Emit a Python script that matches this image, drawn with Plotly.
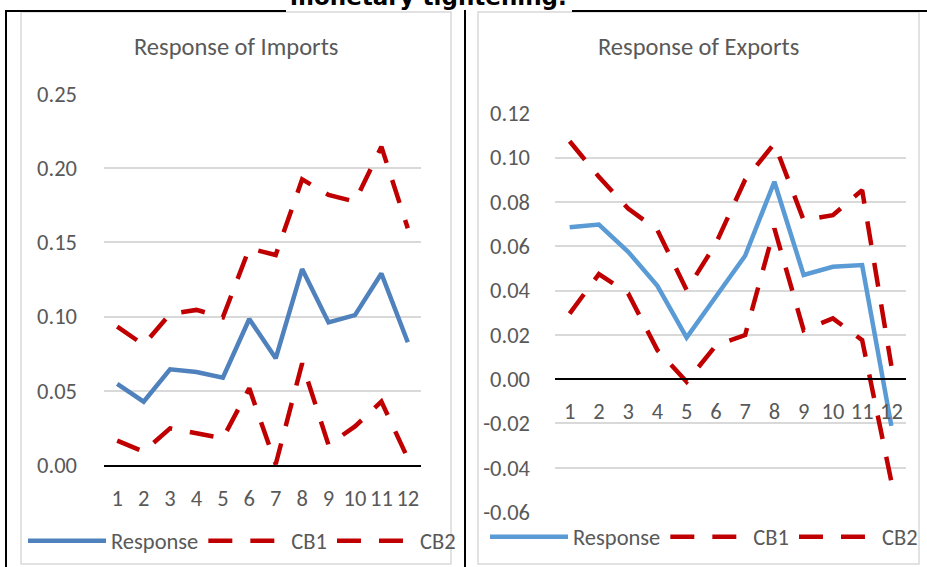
import plotly.graph_objects as go

W, H = 927, 567

periods = list(range(1, 13))

# Response of Imports
imp_response = [0.0546, 0.0427, 0.0645, 0.0627, 0.0589, 0.0984, 0.0719, 0.132, 0.0961, 0.101, 0.129, 0.0827]
imp_cb1 = [0.0164, 0.009, 0.0247, 0.0213, 0.018, 0.0517, 0.0005, 0.0685, 0.0135, 0.026, 0.0427, 0.0045]
imp_cb2 = [0.0932, 0.081, 0.1018, 0.1045, 0.0995, 0.146, 0.1415, 0.1925, 0.182, 0.1775, 0.2145, 0.1595]

# Response of Exports
exp_response = [0.0686, 0.0698, 0.0575, 0.0421, 0.0187, 0.0372, 0.0557, 0.0891, 0.047, 0.0507, 0.0515, -0.0211]
exp_cb1 = [0.0296, 0.0474, 0.0387, 0.0131, -0.0012, 0.0152, 0.0199, 0.068, 0.0221, 0.0274, 0.0176, -0.0463]
exp_cb2 = [0.1074, 0.0913, 0.077, 0.0673, 0.0402, 0.0612, 0.090, 0.1064, 0.0718, 0.074, 0.0853, 0.006]

imp_ytick_vals = [0.0, 0.05, 0.10, 0.15, 0.20, 0.25]
imp_ytick_text = ["0.00", "0.05", "0.10", "0.15", "0.20", "0.25"]
exp_ytick_vals = [-0.06, -0.04, -0.02, 0.0, 0.02, 0.04, 0.06, 0.08, 0.10, 0.12]
exp_ytick_text = ["-0.06", "-0.04", "-0.02", "0.00", "0.02", "0.04", "0.06", "0.08", "0.10", "0.12"]

FONT = "Carlito, Calibri, Lato, sans-serif"
GRAY_TXT = "#595959"
GRID = "#D9D9D9"
RED = "#C00000"
BLUE_L = "#4F81BD"
BLUE_R = "#5B9BD5"
DASH = "24px,18px"


def px(x):
    return x / W


def py(y):
    return 1 - y / H


fig = go.Figure()

# left chart traces
fig.add_trace(go.Scatter(x=periods, y=imp_response, name="Response", mode="lines",
                         line=dict(color=BLUE_L, width=4.5), xaxis="x", yaxis="y", legend="legend"))
fig.add_trace(go.Scatter(x=periods, y=imp_cb1, name="CB1", mode="lines",
                         line=dict(color=RED, width=4.5, dash=DASH), xaxis="x", yaxis="y", legend="legend"))
fig.add_trace(go.Scatter(x=periods, y=imp_cb2, name="CB2", mode="lines",
                         line=dict(color=RED, width=4.5, dash=DASH), xaxis="x", yaxis="y", legend="legend"))

# right chart traces
fig.add_trace(go.Scatter(x=periods, y=exp_response, name="Response", mode="lines",
                         line=dict(color=BLUE_R, width=4.5), xaxis="x2", yaxis="y2", legend="legend2"))
fig.add_trace(go.Scatter(x=periods, y=exp_cb1, name="CB1", mode="lines",
                         line=dict(color=RED, width=4.5, dash=DASH), xaxis="x2", yaxis="y2", legend="legend2"))
fig.add_trace(go.Scatter(x=periods, y=exp_cb2, name="CB2", mode="lines",
                         line=dict(color=RED, width=4.5, dash=DASH), xaxis="x2", yaxis="y2", legend="legend2"))

tickfont = dict(family=FONT, size=22.5, color=GRAY_TXT)

# left domains
l_x0, l_x1 = 104, 421
l_ytop, l_ybot = 94, 465
# right domains
r_x0, r_x1 = 555, 906
r_ytop, r_ybot = 113.3, 512

r_ymin, r_ymax = -0.06, 0.12
r_dom = [py(r_ybot), py(r_ytop)]
r_zero_pos = r_dom[0] + (0 - r_ymin) / (r_ymax - r_ymin) * (r_dom[1] - r_dom[0])

fig.update_layout(
    width=W, height=H,
    margin=dict(l=0, r=0, t=0, b=0, pad=0, autoexpand=False),
    paper_bgcolor="white", plot_bgcolor="rgba(0,0,0,0)",
    xaxis=dict(domain=[px(l_x0), px(l_x1)], anchor="y", range=[0.5, 12.5],
               tickvals=periods, ticktext=[str(p) for p in periods], ticks="",
               showgrid=False, zeroline=False, showline=True, linecolor="black", linewidth=2,
               tickfont=tickfont, ticklabelstandoff=12, automargin=False),
    yaxis=dict(domain=[py(l_ybot), py(l_ytop)], anchor="x", range=[0, 0.25],
               tickvals=imp_ytick_vals, ticktext=imp_ytick_text, ticks="",
               showgrid=True, gridcolor=GRID, gridwidth=1.5, zeroline=False, showline=False,
               tickfont=tickfont, ticklabelstandoff=26, automargin=False),
    xaxis2=dict(domain=[px(r_x0), px(r_x1)], anchor="free", position=r_zero_pos, range=[0.5, 12.5],
                tickvals=periods, ticktext=[str(p) for p in periods], ticks="",
                showgrid=False, zeroline=False, showline=True, linecolor="black", linewidth=2,
                tickfont=tickfont, ticklabelstandoff=12, automargin=False),
    yaxis2=dict(domain=r_dom, anchor="x2", range=[r_ymin, r_ymax],
                tickvals=exp_ytick_vals, ticktext=exp_ytick_text, ticks="",
                showgrid=True, gridcolor=GRID, gridwidth=1.5, zeroline=False, showline=False,
                tickfont=tickfont, ticklabelstandoff=24, automargin=False),
    legend=dict(x=px(23), y=py(541), xanchor="left", yanchor="middle", orientation="h",
                itemwidth=78, font=dict(family=FONT, size=22.5, color=GRAY_TXT),
                bgcolor="rgba(0,0,0,0)", traceorder="normal"),
    legend2=dict(x=px(485), y=py(537), xanchor="left", yanchor="middle", orientation="h",
                 itemwidth=78, font=dict(family=FONT, size=22.5, color=GRAY_TXT),
                 bgcolor="rgba(0,0,0,0)", traceorder="normal"),
    showlegend=True,
)

annotations = [
    dict(text="Response of Imports", x=px(236), y=py(47), xref="paper", yref="paper",
         xanchor="center", yanchor="middle", showarrow=False,
         font=dict(family=FONT, size=24.5, color=GRAY_TXT)),
    dict(text="Response of Exports", x=px(698), y=py(47), xref="paper", yref="paper",
         xanchor="center", yanchor="middle", showarrow=False,
         font=dict(family=FONT, size=24.5, color=GRAY_TXT)),
    dict(text="<b>monetary tightening.</b>", x=px(428), y=py(12), xref="paper", yref="paper",
         xanchor="center", yanchor="bottom", showarrow=False,
         font=dict(family="DejaVu Sans", size=23, color="black")),
]
fig.update_layout(annotations=annotations)

shapes = [
    # chart-area borders
    dict(type="rect", xref="paper", yref="paper", x0=px(21), x1=px(451), y0=py(564), y1=py(12),
         line=dict(color=GRID, width=1.5), layer="below"),
    dict(type="rect", xref="paper", yref="paper", x0=px(478), x1=px(919), y0=py(564), y1=py(12),
         line=dict(color=GRID, width=1.5), layer="below"),
    # table borders
    dict(type="line", xref="paper", yref="paper", x0=px(6), x1=px(6), y0=py(10), y1=py(567),
         line=dict(color="black", width=2)),
    dict(type="line", xref="paper", yref="paper", x0=px(465), x1=px(465), y0=py(10), y1=py(567),
         line=dict(color="black", width=2)),
    dict(type="line", xref="paper", yref="paper", x0=px(5), x1=px(286), y0=py(11), y1=py(11),
         line=dict(color="black", width=2)),
    dict(type="line", xref="paper", yref="paper", x0=px(572), x1=px(927), y0=py(11), y1=py(11),
         line=dict(color="black", width=2)),
]
fig.update_layout(shapes=shapes)

fig.write_html("out.html",
               config={"displayModeBar": False},
               post_script="document.body.style.margin='0';document.body.style.overflow='hidden';")
